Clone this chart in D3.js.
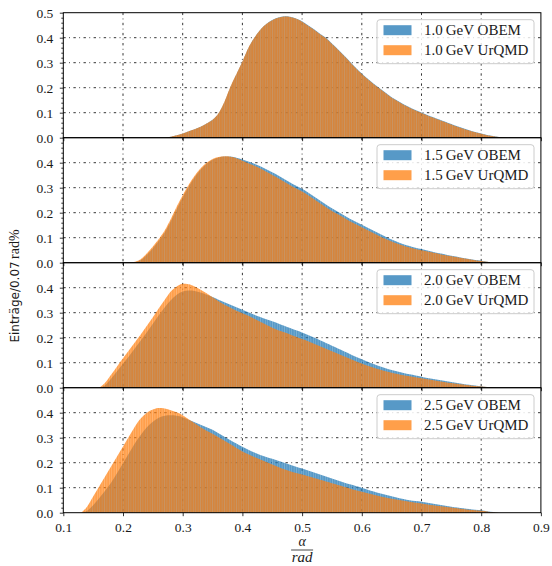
<!DOCTYPE html>
<html>
<head>
<meta charset="utf-8">
<script src="https://cdn.jsdelivr.net/npm/d3@7"></script>
<style>
  body { margin: 0; background: #fff; }
  svg { display: block; }
</style>
</head>
<body>
<div id="chart"></div>
<script>
// DATA
const energies = ["1.0", "1.5", "2.0", "2.5"];
const seriesNames = ["OBEM", "UrQMD"];
const binWidth = 0.01;
const binStart = [0.27, 0.21, 0.16, 0.13];
const xTicks = [0.1, 0.2, 0.3, 0.4, 0.5, 0.6, 0.7, 0.8, 0.9];
const yTicksTop = [0.0, 0.1, 0.2, 0.3, 0.4, 0.5];
const yTicks = [0.0, 0.1, 0.2, 0.3, 0.4];

const obem10 = [
  0.000, 0.004, 0.010, 0.017, 0.026, 0.034, 0.044, 0.057, 0.072, 0.097,
  0.143, 0.203, 0.254, 0.304, 0.359, 0.400, 0.432, 0.455, 0.471, 0.481,
  0.486, 0.484, 0.477, 0.466, 0.450, 0.434, 0.416, 0.400, 0.377, 0.354,
  0.330, 0.305, 0.280, 0.257, 0.236, 0.216, 0.198, 0.180, 0.162, 0.148,
  0.134, 0.122, 0.111, 0.101, 0.091, 0.082, 0.073, 0.064, 0.055, 0.046,
  0.038, 0.030, 0.023, 0.017, 0.011, 0.007, 0.003, 0.001, 0.000
];
const urqmd10 = [
  0.000, 0.004, 0.010, 0.017, 0.026, 0.034, 0.044, 0.057, 0.072, 0.098,
  0.145, 0.205, 0.255, 0.305, 0.360, 0.400, 0.432, 0.455, 0.470, 0.480,
  0.485, 0.483, 0.476, 0.464, 0.448, 0.432, 0.414, 0.398, 0.375, 0.352,
  0.328, 0.303, 0.278, 0.255, 0.234, 0.214, 0.196, 0.178, 0.160, 0.146,
  0.132, 0.120, 0.109, 0.099, 0.089, 0.080, 0.071, 0.062, 0.053, 0.044,
  0.036, 0.029, 0.022, 0.016, 0.010, 0.006, 0.003, 0.001, 0.000
];

const obem15 = [
  0.000, 0.002, 0.011, 0.032, 0.058, 0.088, 0.122, 0.166, 0.215, 0.262,
  0.305, 0.342, 0.373, 0.396, 0.412, 0.421, 0.425, 0.425, 0.420, 0.413,
  0.405, 0.396, 0.386, 0.374, 0.362, 0.349, 0.335, 0.321, 0.308, 0.296,
  0.281, 0.265, 0.249, 0.233, 0.218, 0.204, 0.190, 0.176, 0.164, 0.152,
  0.140, 0.128, 0.116, 0.104, 0.093, 0.083, 0.074, 0.067, 0.060, 0.055,
  0.049, 0.043, 0.038, 0.033, 0.028, 0.024, 0.019, 0.015, 0.011, 0.008,
  0.004, 0.001, 0.000
];
const urqmd15 = [
  0.000, 0.004, 0.015, 0.038, 0.065, 0.095, 0.130, 0.175, 0.225, 0.270,
  0.312, 0.348, 0.378, 0.400, 0.415, 0.423, 0.426, 0.424, 0.418, 0.408,
  0.398, 0.388, 0.377, 0.364, 0.351, 0.338, 0.324, 0.310, 0.297, 0.285,
  0.270, 0.254, 0.238, 0.222, 0.207, 0.194, 0.180, 0.166, 0.154, 0.142,
  0.130, 0.118, 0.106, 0.095, 0.085, 0.076, 0.068, 0.061, 0.055, 0.050,
  0.045, 0.040, 0.035, 0.030, 0.026, 0.022, 0.018, 0.014, 0.010, 0.007,
  0.004, 0.001, 0.000
];

const obem20 = [
  0.000, 0.010, 0.036, 0.066, 0.096, 0.126, 0.158, 0.190, 0.222, 0.256,
  0.290, 0.322, 0.350, 0.372, 0.385, 0.389, 0.387, 0.381, 0.372, 0.363,
  0.352, 0.342, 0.332, 0.322, 0.312, 0.302, 0.292, 0.283, 0.274, 0.266,
  0.257, 0.248, 0.239, 0.230, 0.221, 0.211, 0.201, 0.190, 0.179, 0.168,
  0.157, 0.146, 0.135, 0.124, 0.114, 0.104, 0.095, 0.086, 0.078, 0.071,
  0.065, 0.059, 0.054, 0.049, 0.044, 0.039, 0.035, 0.031, 0.027, 0.023,
  0.019, 0.015, 0.012, 0.009, 0.006, 0.003, 0.001, 0.000
];
const urqmd20 = [
  0.000, 0.020, 0.052, 0.085, 0.118, 0.150, 0.182, 0.214, 0.248, 0.282,
  0.318, 0.352, 0.385, 0.405, 0.416, 0.414, 0.405, 0.392, 0.378, 0.362,
  0.346, 0.332, 0.320, 0.308, 0.298, 0.288, 0.276, 0.264, 0.252, 0.240,
  0.230, 0.222, 0.213, 0.204, 0.195, 0.186, 0.176, 0.166, 0.156, 0.146,
  0.136, 0.126, 0.116, 0.106, 0.097, 0.088, 0.080, 0.073, 0.066, 0.060,
  0.055, 0.050, 0.046, 0.042, 0.038, 0.034, 0.030, 0.026, 0.022, 0.019,
  0.016, 0.013, 0.010, 0.007, 0.005, 0.003, 0.001, 0.000
];

const obem25 = [
  0.000, 0.008, 0.030, 0.058, 0.088, 0.120, 0.158, 0.198, 0.238, 0.278,
  0.312, 0.342, 0.364, 0.380, 0.388, 0.390, 0.388, 0.382, 0.372, 0.362,
  0.352, 0.342, 0.332, 0.318, 0.304, 0.290, 0.277, 0.264, 0.252, 0.241,
  0.231, 0.223, 0.216, 0.208, 0.200, 0.192, 0.184, 0.177, 0.169, 0.161,
  0.153, 0.145, 0.137, 0.129, 0.121, 0.114, 0.107, 0.100, 0.092, 0.085,
  0.078, 0.072, 0.066, 0.060, 0.055, 0.050, 0.047, 0.044, 0.040, 0.036,
  0.032, 0.028, 0.024, 0.021, 0.018, 0.015, 0.012, 0.010, 0.006, 0.003,
  0.000
];
const urqmd25 = [
  0.000, 0.025, 0.065, 0.105, 0.145, 0.185, 0.225, 0.265, 0.305, 0.345,
  0.378, 0.400, 0.413, 0.419, 0.417, 0.410, 0.402, 0.390, 0.374, 0.358,
  0.342, 0.328, 0.316, 0.302, 0.288, 0.274, 0.259, 0.245, 0.234, 0.223,
  0.213, 0.203, 0.193, 0.183, 0.174, 0.166, 0.159, 0.153, 0.146, 0.139,
  0.132, 0.125, 0.118, 0.111, 0.104, 0.097, 0.090, 0.084, 0.078, 0.072,
  0.066, 0.061, 0.056, 0.052, 0.048, 0.044, 0.040, 0.037, 0.033, 0.030,
  0.027, 0.024, 0.021, 0.018, 0.015, 0.012, 0.010, 0.008, 0.005, 0.002,
  0.000
];

const obemSeries = [obem10, obem15, obem20, obem25];
const urqmdSeries = [urqmd10, urqmd15, urqmd20, urqmd25];

// LAYOUT
const W = 552, H = 566;
const margin = { top: 12.7, left: 63.3, right: 11.1 };
const panelH = 125;
const colors = ["#1f77b4", "#ff7f0e"];
const fillAlpha = 0.75;
const serif = "'Liberation Serif', serif";
const textColor = "#1a1a1a";

const svg = d3.select('#chart').append('svg')
  .attr('width', W)
  .attr('height', H);

const x = d3.scaleLinear()
  .domain([0.1, 0.9])
  .range([margin.left, W - margin.right]);

// fine bar texture like a many-bin histogram
const defs = svg.append('defs');
colors.forEach(function (c, s) {
  const pat = defs.append('pattern')
    .attr('id', `bars${s}`)
    .attr('patternUnits', 'userSpaceOnUse')
    .attr('x', x(0.1))
    .attr('width', 2.4)
    .attr('height', 10);
  pat.append('rect')
    .attr('width', 0.6)
    .attr('height', 10)
    .attr('fill', c)
    .attr('fill-opacity', 0.66);
  pat.append('rect')
    .attr('x', 0.6)
    .attr('width', 1.8)
    .attr('height', 10)
    .attr('fill', c)
    .attr('fill-opacity', fillAlpha);
});

const area = d3.area()
  .curve(d3.curveMonotoneX);

function styleTicks(sel) {
  sel.selectAll('text')
    .attr('font-family', serif)
    .attr('font-size', 13.5)
    .attr('fill', textColor);
  sel.selectAll('line').attr('stroke', '#000').attr('stroke-width', 0.8);
  sel.select('.domain').remove();
}

energies.forEach(function (energy, p) {
  const top = margin.top + p * panelH;
  const y = d3.scaleLinear()
    .domain([0, 0.5])
    .range([top + panelH, top]);

  const g = svg.append('g').attr('class', 'panel');

  // grid
  const gridStyle = function (sel) {
    sel.attr('stroke', '#000')
      .attr('stroke-width', 0.8)
      .attr('stroke-dasharray', '2.4,3.4,0.9,3.4');
  };
  g.selectAll('line.vgrid')
    .data(xTicks.slice(1, -1))
    .enter().append('line')
    .attr('class', 'vgrid')
    .attr('x1', function (d) { return x(d); })
    .attr('x2', function (d) { return x(d); })
    .attr('y1', y(0.5))
    .attr('y2', y(0))
    .call(gridStyle);
  g.selectAll('line.hgrid')
    .data(yTicks.slice(1))
    .enter().append('line')
    .attr('class', 'hgrid')
    .attr('x1', x(0.1))
    .attr('x2', x(0.9))
    .attr('y1', function (d) { return y(d); })
    .attr('y2', function (d) { return y(d); })
    .call(gridStyle);

  // histograms
  [obemSeries[p], urqmdSeries[p]].forEach(function (vals, s) {
    const pts = vals.map(function (v, i) {
      return [binStart[p] + i * binWidth, v];
    });
    area.x(function (d) { return x(d[0]); })
      .y0(y(0))
      .y1(function (d) { return y(d[1]); });
    g.append('path')
      .datum(pts)
      .attr('d', area)
      .attr('fill', `url(#bars${s})`);
  });

  // y axis
  const yAxis = d3.axisLeft(y)
    .tickValues(p === 0 ? yTicksTop : yTicks)
    .tickSize(3.5)
    .tickPadding(6.5)
    .tickFormat(d3.format('.1f'));
  g.append('g')
    .attr('transform', `translate(${x(0.1)},0)`)
    .call(yAxis)
    .call(styleTicks);

  const yMinor = d3.axisLeft(y)
    .tickValues(d3.range(0.02, 0.5, 0.02).filter(function (d) { return Math.round(d * 100) % 10 !== 0; }))
    .tickSize(2)
    .tickFormat('');
  g.append('g')
    .attr('transform', `translate(${x(0.1)},0)`)
    .call(yMinor)
    .call(styleTicks);

  // x axis ticks (labels only at bottom)
  const xAxis = d3.axisBottom(x)
    .tickValues(xTicks)
    .tickSize(3.5)
    .tickPadding(6)
    .tickFormat(p === energies.length - 1 ? d3.format('.1f') : '');
  g.append('g')
    .attr('transform', `translate(0,${y(0)})`)
    .call(xAxis)
    .call(styleTicks);

  // frame
  g.append('rect')
    .attr('x', x(0.1))
    .attr('y', y(0.5))
    .attr('width', x(0.9) - x(0.1))
    .attr('height', y(0) - y(0.5))
    .attr('fill', 'none')
    .attr('stroke', '#000')
    .attr('stroke-width', 1);

  // legend
  const lg = g.append('g')
    .attr('transform', `translate(377,${top + 7})`);
  lg.append('rect')
    .attr('width', 157)
    .attr('height', 44)
    .attr('rx', 3)
    .attr('fill', '#fff')
    .attr('fill-opacity', 0.8)
    .attr('stroke', '#ccc')
    .attr('stroke-width', 1);
  seriesNames.forEach(function (name, s) {
    lg.append('rect')
      .attr('x', 6.5)
      .attr('y', 5.5 + s * 20)
      .attr('width', 28)
      .attr('height', 10)
      .attr('fill', colors[s])
      .attr('fill-opacity', fillAlpha);
    lg.append('text')
      .attr('x', 47)
      .attr('y', 10.5 + s * 20)
      .attr('dy', '0.35em')
      .attr('font-family', serif)
      .attr('font-size', 15)
      .attr('fill', textColor)
      .text(`${energy}\u2009GeV ${name}`);
  });
});

// y label
const yl = svg.append('text')
  .attr('transform', 'translate(15,286) rotate(-90)')
  .attr('text-anchor', 'middle')
  .attr('dy', '0.35em')
  .attr('font-family', "'DejaVu Sans', sans-serif")
  .attr('font-size', 12)
  .attr('fill', textColor);
yl.append('tspan').text('Einträge/0.07\u2009');
yl.append('tspan').attr('font-family', serif).attr('font-size', 14).text('rad%');

// x label: alpha / rad
const xc = x(0.5);
svg.append('text')
  .attr('x', xc)
  .attr('y', 546)
  .attr('text-anchor', 'middle')
  .attr('font-family', serif)
  .attr('font-style', 'italic')
  .attr('font-size', 14)
  .attr('fill', textColor)
  .text('α');
svg.append('line')
  .attr('x1', xc - 11)
  .attr('x2', xc + 11)
  .attr('y1', 550)
  .attr('y2', 550)
  .attr('stroke', textColor)
  .attr('stroke-width', 0.8);
svg.append('text')
  .attr('x', xc)
  .attr('y', 562)
  .attr('text-anchor', 'middle')
  .attr('font-family', serif)
  .attr('font-style', 'italic')
  .attr('font-size', 15)
  .attr('fill', textColor)
  .text('rad');
</script>
</body>
</html>
